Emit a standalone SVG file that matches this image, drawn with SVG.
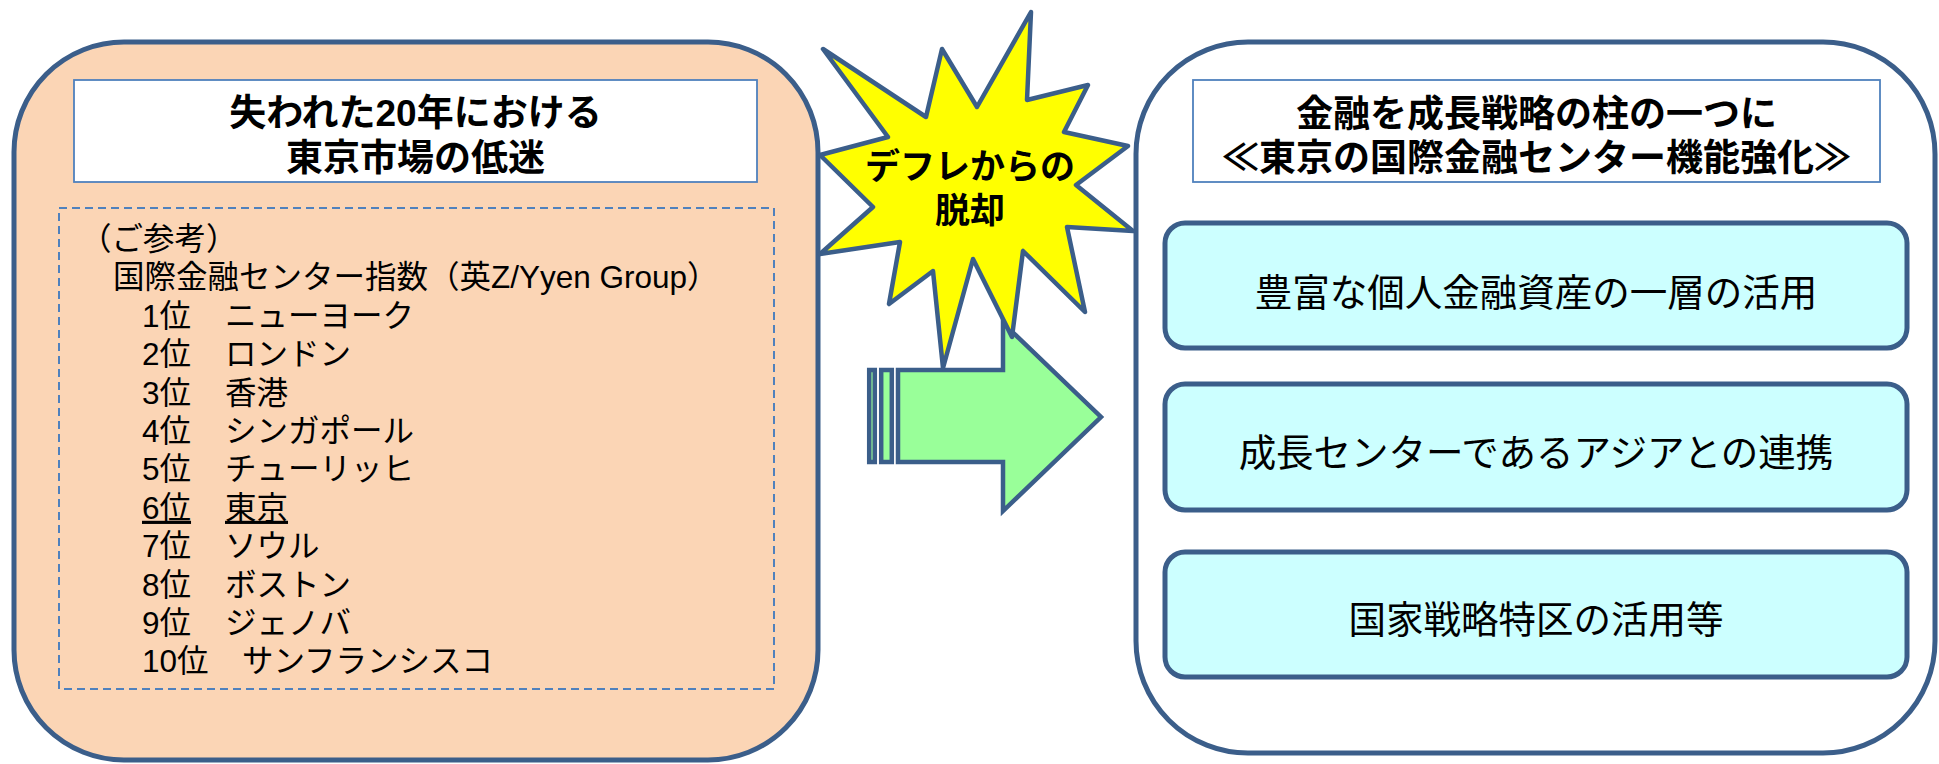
<svg xmlns="http://www.w3.org/2000/svg" width="1939" height="764" viewBox="0 0 1939 764">
<style>
.frame{stroke:#3B5E8A;stroke-width:5}
.ttl{fill:#fff;stroke:#4F81BD;stroke-width:1.8}
.t{font-family:"Liberation Sans","Noto Sans CJK JP",sans-serif;fill:#000}
.hb{font-size:37px;font-weight:bold;text-anchor:middle}
.ls{font-size:31.5px}
.cy{fill:#CCFFFF;stroke:#3B5E8A;stroke-width:5}
.ct{font-size:37.5px;text-anchor:middle}
</style>
<rect width="1939" height="764" fill="#fff"/>
<g id="left-panel">
  <rect class="frame" x="14" y="42" width="804" height="718" rx="110" ry="110" fill="#FBD5B5"/>
  <rect class="ttl" x="74" y="80" width="683" height="102"/>
  <text class="t hb" x="415.5" y="125.5">失われた20年における</text>
  <text class="t hb" x="415.5" y="170.5">東京市場の低迷</text>
  <rect x="59" y="208" width="715" height="481" fill="none" stroke="#4F81BD" stroke-width="2" stroke-dasharray="8,5"/>
  <text class="t ls" x="80" y="250">（ご参考）</text>
  <text class="t ls" x="113" y="288.4">国際金融センター指数（英Z/Yyen Group）</text>
  <text class="t ls" y="326.8"><tspan x="142">1位</tspan><tspan x="225">ニューヨーク</tspan></text>
  <text class="t ls" y="365.2"><tspan x="142">2位</tspan><tspan x="225">ロンドン</tspan></text>
  <text class="t ls" y="403.6"><tspan x="142">3位</tspan><tspan x="225">香港</tspan></text>
  <text class="t ls" y="442"><tspan x="142">4位</tspan><tspan x="225">シンガポール</tspan></text>
  <text class="t ls" y="480.4"><tspan x="142">5位</tspan><tspan x="225">チューリッヒ</tspan></text>
  <text class="t ls" y="518.8"><tspan x="142" text-decoration="underline">6位</tspan><tspan x="225" text-decoration="underline">東京</tspan></text>
  <text class="t ls" y="557.2"><tspan x="142">7位</tspan><tspan x="225">ソウル</tspan></text>
  <text class="t ls" y="595.6"><tspan x="142">8位</tspan><tspan x="225">ボストン</tspan></text>
  <text class="t ls" y="634"><tspan x="142">9位</tspan><tspan x="225">ジェノバ</tspan></text>
  <text class="t ls" y="672.4"><tspan x="142">10位</tspan><tspan x="242">サンフランシスコ</tspan></text>
</g>
<g id="right-panel">
  <rect class="frame" x="1136" y="42" width="799" height="711" rx="112" ry="112" fill="#fff"/>
  <rect class="ttl" x="1193" y="80" width="687" height="102"/>
  <text class="t hb" x="1536.5" y="127">金融を成長戦略の柱の一つに</text>
  <text class="t hb" x="1536.5" y="171">≪東京の国際金融センター機能強化≫</text>
</g>
<g id="box1">
  <rect class="cy" x="1165" y="223" width="742" height="125" rx="20" ry="20"/>
  <text class="t ct" x="1536" y="306" font-size="38.5">豊富な個人金融資産の一層の活用</text>
</g>
<g id="box2">
  <rect class="cy" x="1165" y="384" width="742" height="126" rx="20" ry="20"/>
  <text class="t ct" x="1536" y="466">成長センターであるアジアとの連携</text>
</g>
<g id="box3">
  <rect class="cy" x="1165" y="552" width="742" height="125" rx="20" ry="20"/>
  <text class="t ct" x="1536" y="633">国家戦略特区の活用等</text>
</g>
<g id="connectors">
  <g id="arrow" fill="#99FF99" stroke="#3B5E8A" stroke-width="4.5" stroke-linejoin="miter">
    <rect x="869.2" y="370" width="5.6" height="92"/>
    <rect x="881.2" y="370" width="10.6" height="92"/>
    <polygon points="898,370 1003,370 1003,323 1101,417 1003,511 1003,462 898,462"/>
  </g>
</g>
<g id="burst">
  <polygon fill="#FFFF00" stroke="#3B5E8A" stroke-width="4.5" stroke-linejoin="round" points="823,49 926,117 942,49 977,107 1031,12 1027,100 1088,85 1064,132 1128,146 1076,185 1133,231 1067,227 1085,312 1023,251 1012,337 973,259 943,368 933,271 889,304 900,242 820,254 873,207 820,155 888,137"/>
  <text class="t" x="970" y="179" font-size="35" font-weight="bold" text-anchor="middle">デフレからの</text>
  <text class="t" x="970" y="223" font-size="35" font-weight="bold" text-anchor="middle">脱却</text>
</g>
</svg>
